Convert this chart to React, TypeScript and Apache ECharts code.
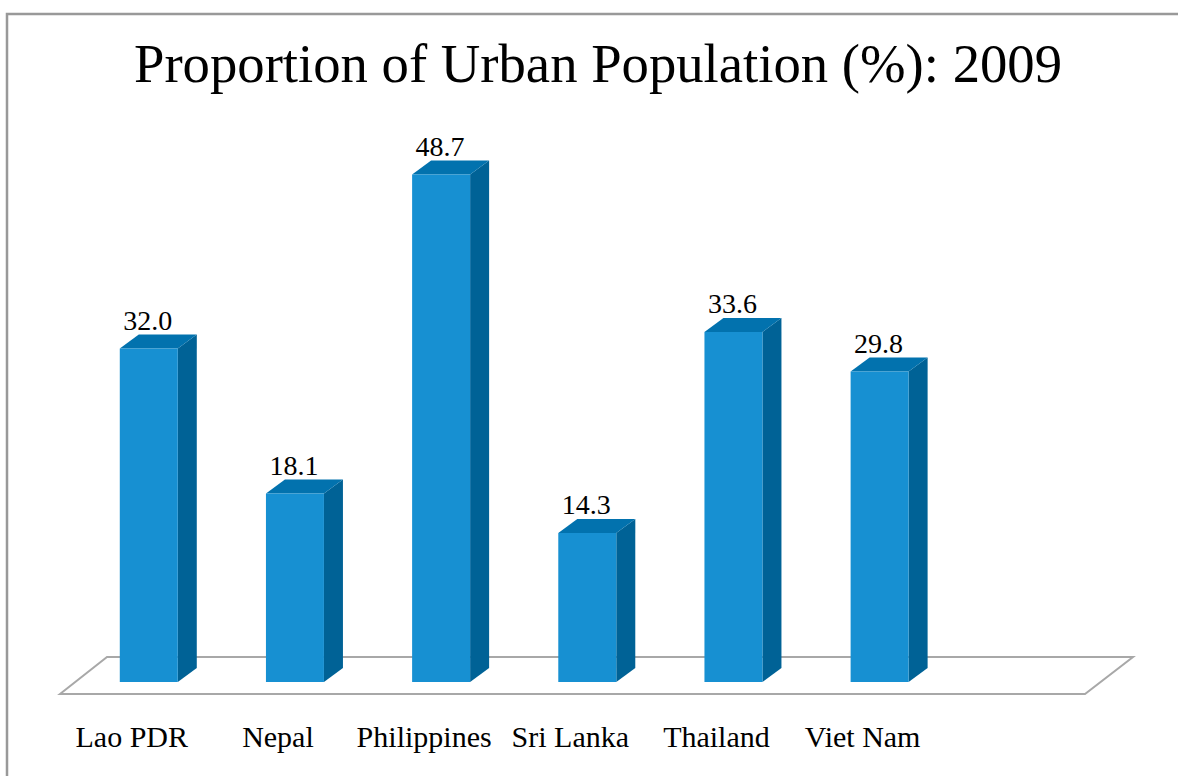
import React, { useEffect, useRef } from "react";
import * as echarts from "echarts";

const categories = ["Lao PDR", "Nepal", "Philippines", "Sri Lanka", "Thailand", "Viet Nam"];
const urbanShare = [32.0, 18.1, 48.7, 14.3, 33.6, 29.8];
const titleText = "Proportion of Urban Population (%): 2009";

const FONT = '"Liberation Serif", serif';
const BAR_W = 58;
const DX = 19;
const DY = -14;

export default function App() {
  const ref = useRef<HTMLDivElement>(null);
  useEffect(() => {
    const chart = echarts.init(ref.current!, null, { renderer: "svg" });
    chart.setOption({
      animation: false,
      backgroundColor: "#ffffff",
      title: {
        text: titleText,
        left: 593,
        top: 31,
        textAlign: "center",
        textStyle: { fontFamily: FONT, fontSize: 54.7, fontWeight: "normal", color: "#000000" },
      },
      grid: { left: 75.7, top: 161, width: 877, height: 521 },
      xAxis: {
        type: "category",
        data: categories,
        axisLine: { show: false },
        axisTick: { show: false },
        splitLine: { show: false },
        axisLabel: {
          interval: 0,
          margin: 39,
          padding: [0, 34, 0, 0],
          fontFamily: FONT,
          fontSize: 30,
          color: "#000000",
          hideOverlap: false,
        },
      },
      yAxis: { type: "value", min: 0, max: 50, show: false },
      graphic: [
        {
          type: "polyline",
          z: 0,
          silent: true,
          shape: { points: [[1178, 14], [7, 14], [7, 776]] },
          style: { stroke: "#999999", lineWidth: 2.5, fill: "none" },
        },
        {
          type: "polygon",
          z: 0,
          silent: true,
          shape: { points: [[60, 694], [107, 657], [1133, 657], [1085, 694]] },
          style: { stroke: "#a8a8a8", lineWidth: 2, fill: "#ffffff" },
        },
      ],
      series: [
        {
          type: "custom",
          clip: false,
          z: 5,
          data: urbanShare.map((v, i) => [i, v]),
          encode: { x: 0, y: 1 },
          renderItem: (_p: any, api: any) => {
            const top = api.coord([api.value(0), api.value(1)]);
            const base = api.coord([api.value(0), 0]);
            const l = top[0] - BAR_W / 2;
            const r = top[0] + BAR_W / 2;
            return {
              type: "group",
              children: [
                {
                  type: "polygon",
                  shape: { points: [[r, top[1]], [r + DX, top[1] + DY], [r + DX, base[1] + DY], [r, base[1]]] },
                  style: { fill: "#006296" },
                },
                {
                  type: "polygon",
                  shape: { points: [[l, top[1]], [l + DX, top[1] + DY], [r + DX, top[1] + DY], [r, top[1]]] },
                  style: { fill: "#0272ae" },
                },
                {
                  type: "rect",
                  shape: { x: l, y: top[1], width: BAR_W, height: base[1] - top[1] },
                  style: { fill: "#1790d2" },
                },
                {
                  type: "text",
                  style: {
                    text: api.value(1).toFixed(1),
                    x: top[0] - 1,
                    y: top[1] + DY,
                    align: "center",
                    verticalAlign: "bottom",
                    font: `28px ${FONT}`,
                    fill: "#000000",
                  },
                },
              ],
            };
          },
        },
      ],
    });
    return () => chart.dispose();
  }, []);
  return <div ref={ref} style={{ position: "fixed", left: 0, top: 0, width: 1178, height: 776 }} />;
}
